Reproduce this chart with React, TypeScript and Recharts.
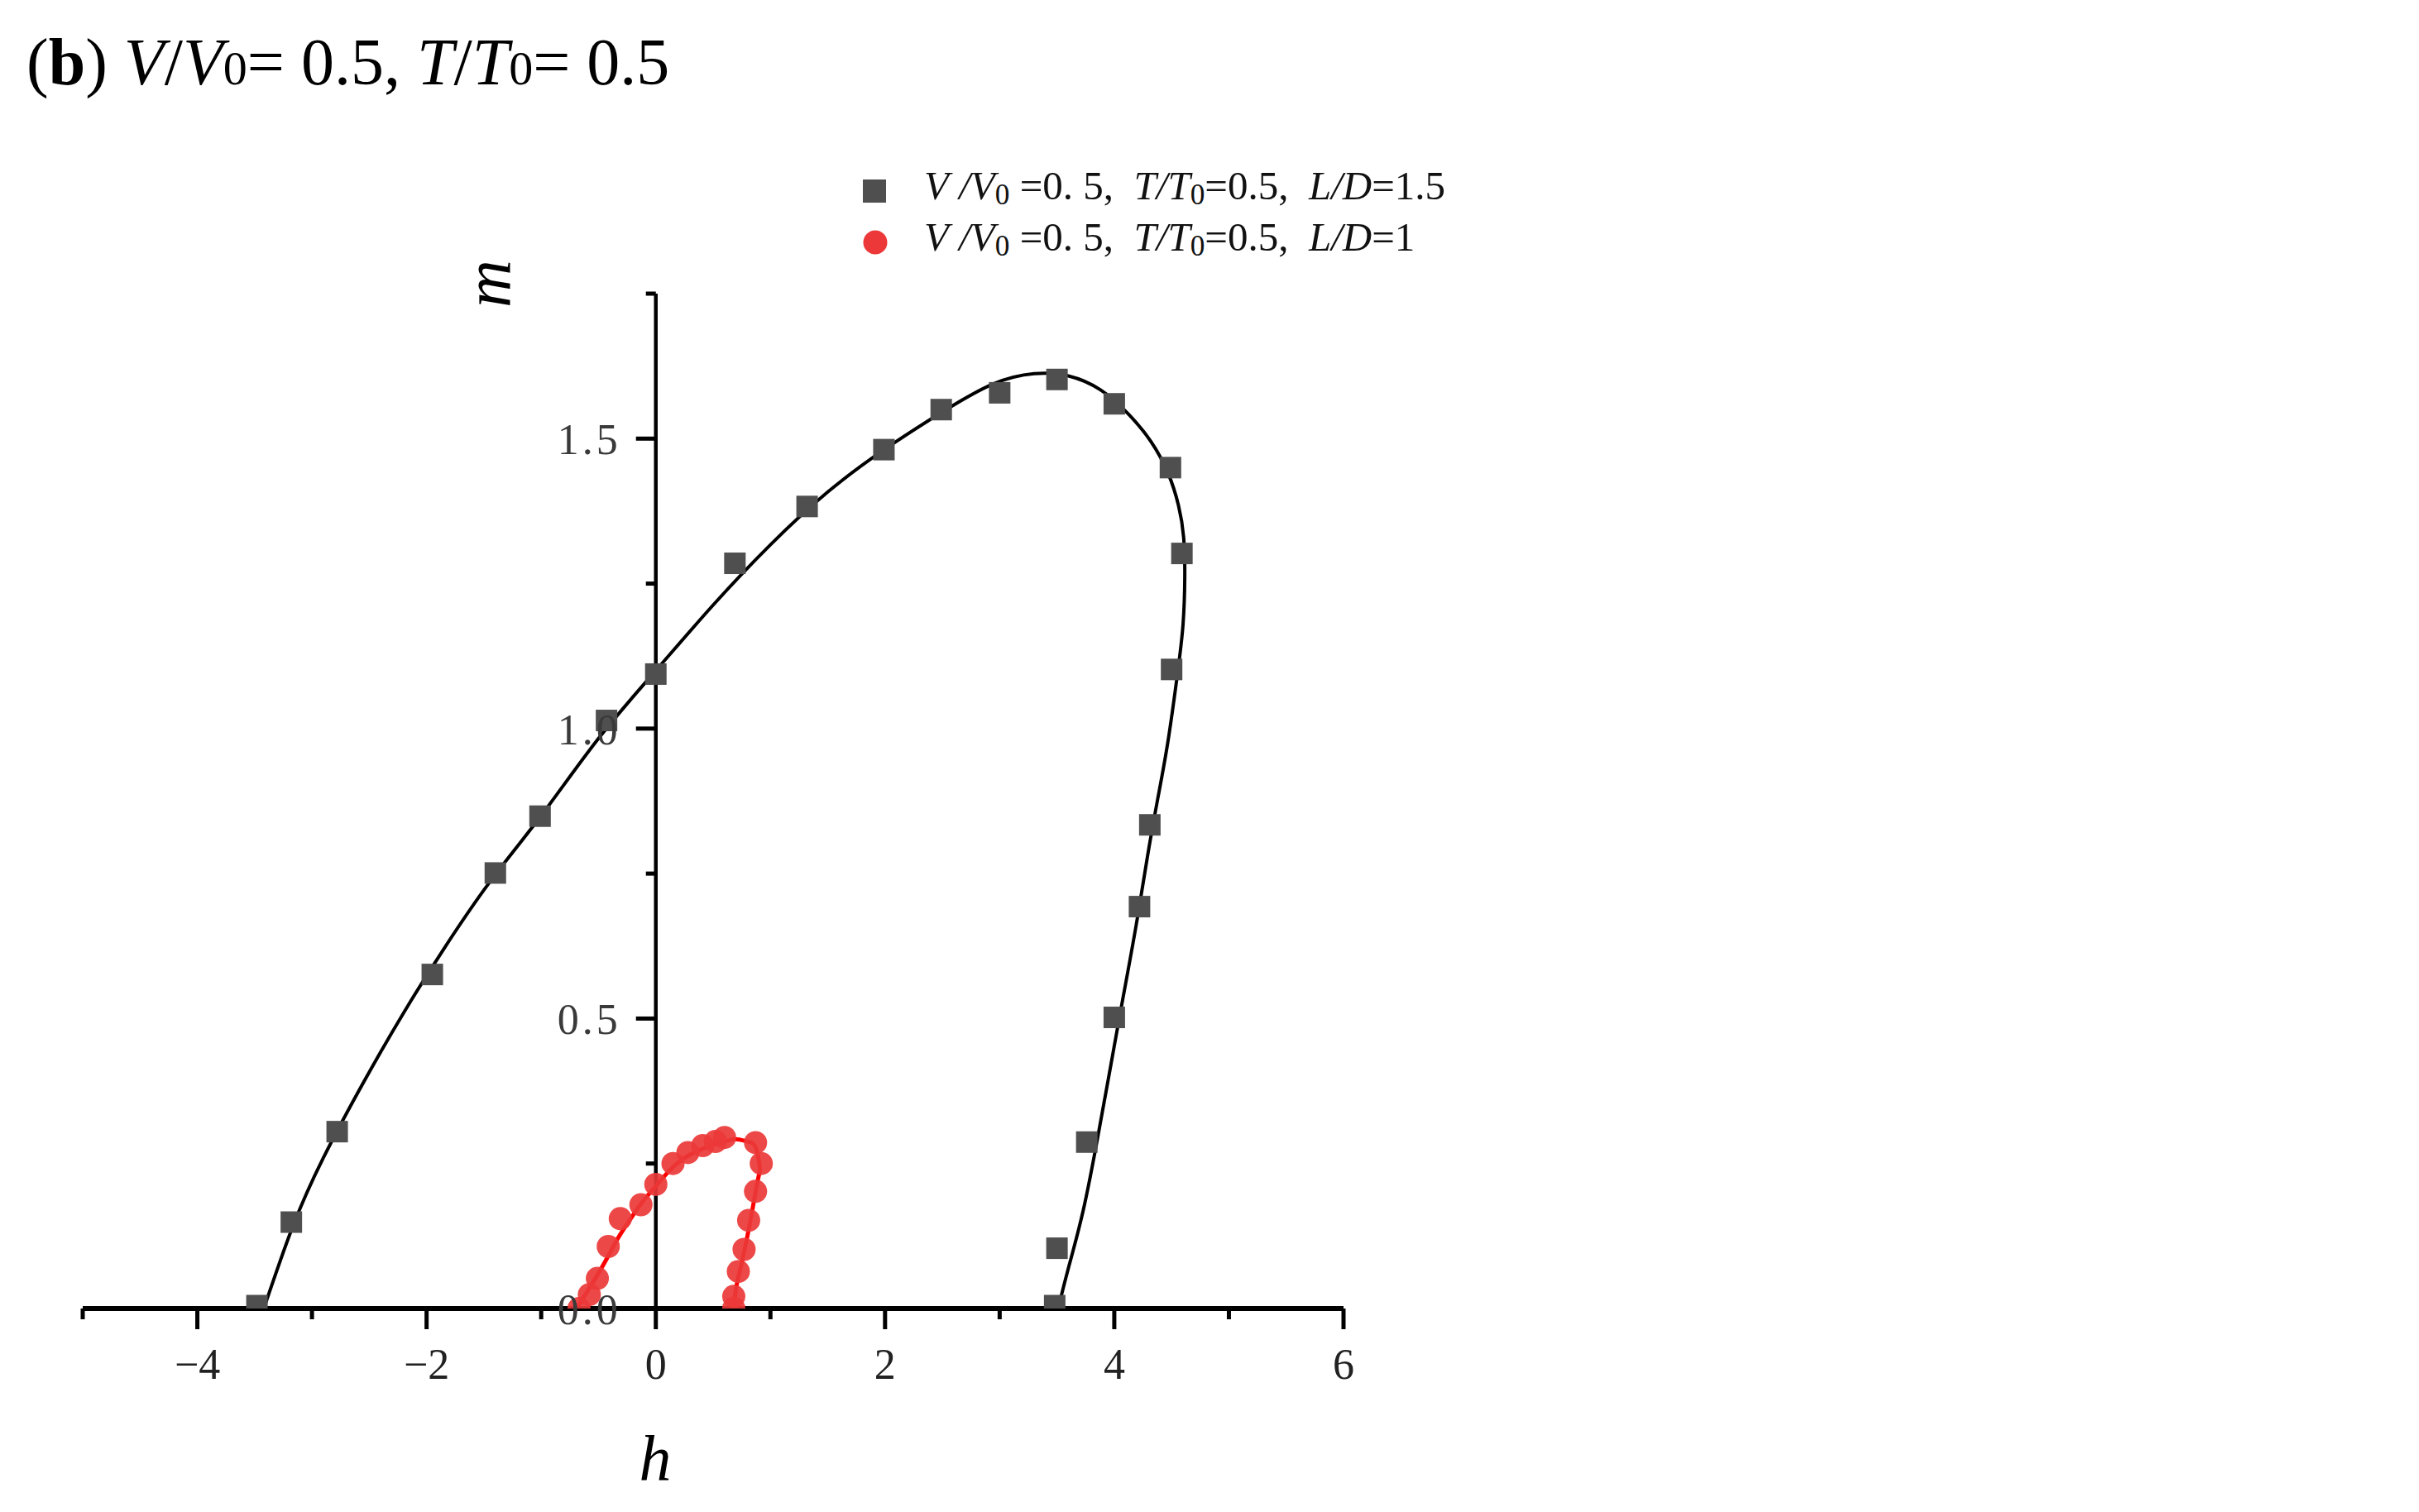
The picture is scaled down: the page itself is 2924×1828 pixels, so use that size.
import React from 'react';
import { ComposedChart, Scatter, Line, XAxis, YAxis, ReferenceLine, Legend } from 'recharts';

// axis ranges / ticks
const H_MIN = -5;
const H_MAX = 6;
const M_MIN = 0;
const M_MAX = 1.75;
const xTicks = [-5, -4, -3, -2, -1, 0, 1, 2, 3, 4, 5, 6];
const xTickLabels = ['', '−4', '', '−2', '', '0', '', '2', '', '4', '', '6'];
const yTicks = [0, 0.25, 0.5, 0.75, 1, 1.25, 1.5, 1.75];
const yTickLabels = ['0.0', '', '0.5', '', '1.0', '', '1.5', ''];

// L/D = 1.5 measured points (squares)
const squaresH = [-3.48, -3.18, -2.78, -1.95, -1.4, -1.01, -0.43, 0.0, 0.69, 1.32, 1.99, 2.49, 3.0, 3.5, 4.0, 4.49, 4.59, 4.5, 4.31, 4.22, 4.0, 3.76, 3.5, 3.48];
const squaresM = [0.005, 0.149, 0.305, 0.576, 0.751, 0.849, 1.014, 1.094, 1.285, 1.383, 1.481, 1.55, 1.579, 1.602, 1.56, 1.45, 1.302, 1.102, 0.834, 0.693, 0.502, 0.287, 0.104, 0.005];

// L/D = 1.5 fitted curve
const fitBlackH = [-3.42, -3.17, -2.9, -2.55, -2.2, -1.85, -1.45, -1.0, -0.5, 0, 0.5, 1.0, 1.5, 2.0, 2.5, 2.94, 3.3, 3.6, 3.88, 4.12, 4.32, 4.47, 4.56, 4.605, 4.615, 4.6, 4.555, 4.47, 4.38, 4.29, 4.19, 4.08, 3.97, 3.86, 3.73, 3.6, 3.51];
const fitBlackM = [0, 0.14, 0.26, 0.39, 0.51, 0.62, 0.735, 0.85, 0.983, 1.1, 1.213, 1.317, 1.408, 1.482, 1.546, 1.594, 1.612, 1.608, 1.584, 1.543, 1.495, 1.44, 1.385, 1.33, 1.26, 1.18, 1.1, 0.98, 0.88, 0.78, 0.66, 0.54, 0.42, 0.3, 0.17, 0.07, 0];

// L/D = 1 measured points (circles)
const circlesH = [-0.67, -0.58, -0.51, -0.415, -0.31, -0.13, 0.0, 0.15, 0.28, 0.41, 0.52, 0.6, 0.87, 0.92, 0.87, 0.81, 0.77, 0.72, 0.68, 0.68];
const circlesM = [0.0, 0.024, 0.052, 0.107, 0.155, 0.179, 0.214, 0.25, 0.269, 0.281, 0.288, 0.295, 0.286, 0.25, 0.202, 0.152, 0.102, 0.064, 0.021, 0.0];

// L/D = 1 fitted curve
const fitRedH = [-0.69, -0.58, -0.45, -0.34, -0.236, -0.12, 0.004, 0.12, 0.245, 0.38, 0.51, 0.62, 0.7, 0.8, 0.87, 0.906, 0.895, 0.846, 0.8, 0.738, 0.7, 0.678];
const fitRedM = [0, 0.035, 0.078, 0.118, 0.15, 0.183, 0.212, 0.238, 0.259, 0.273, 0.283, 0.289, 0.292, 0.288, 0.278, 0.245, 0.226, 0.174, 0.126, 0.069, 0.035, 0];

const zip = (hs: number[], ms: number[]) => hs.map((h, i) => ({ h, m: ms[i] }));
const squares = zip(squaresH, squaresM);
const circles = zip(circlesH, circlesM);
const fitBlack = zip(fitBlackH, fitBlackM);
const fitRed = zip(fitRedH, fitRedM);

const W = 2924;
const H = 1828;
const MARGIN = { top: 355, right: 1300, bottom: 245, left: 99 };
const PLOT_W = W - MARGIN.left - MARGIN.right - 1;
const ZERO_X = MARGIN.left + 1 + ((0 - H_MIN) / (H_MAX - H_MIN)) * PLOT_W;

const SERIF = '"Liberation Serif", "Times New Roman", serif';
const TICK_FONT = 52;

const XTick = ({ x, y, payload }: any) => {
  const label = xTickLabels[xTicks.indexOf(payload.value)];
  const major = !!label;
  return (
    <g>
      <line x1={x} x2={x} y1={y} y2={y + (major ? 25 : 13)} stroke="#000" strokeWidth={5} />
      {major && (
        <text x={x} y={y + 85} textAnchor="middle" fontFamily={SERIF} fontSize={TICK_FONT} fill="#222">
          {label}
        </text>
      )}
    </g>
  );
};

const YTick = ({ y, payload }: any) => {
  const label = yTickLabels[yTicks.indexOf(payload.value)];
  const major = !!label;
  return (
    <g>
      <line x1={ZERO_X} x2={ZERO_X - (major ? 24 : 12)} y1={y} y2={y} stroke="#000" strokeWidth={5} />
      {major && (
        <text x={ZERO_X - 42} y={y + 19} textAnchor="end" fontFamily={SERIF} fontSize={TICK_FONT} fill="#3a3a3a" letterSpacing={4}>
          {label}
        </text>
      )}
    </g>
  );
};

const Square = ({ cx, cy }: any) => <rect x={cx - 13} y={cy - 13} width={26} height={26} fill="#4f4f4f" />;
const Dot = ({ cx, cy }: any) => <circle cx={cx} cy={cy} r={14} fill="#ec3838" fillOpacity={0.92} />;

const Sub = ({ children }: any) => (
  <span style={{ fontStyle: 'normal', fontSize: '0.72em', verticalAlign: '-0.18em' }}>{children}</span>
);

const LegendRow = ({ marker, ld }: any) => (
  <div style={{ display: 'flex', alignItems: 'center', height: 62, whiteSpace: 'pre' }}>
    <svg width={74} height={62}>
      {marker === 'square' ? (
        <rect x={0} y={17} width={28} height={28} fill="#4f4f4f" />
      ) : (
        <circle cx={15} cy={31} r={14.5} fill="#ec3838" />
      )}
    </svg>
    <span>
      <i>V</i> <i>/V</i>
      <Sub>0</Sub> =0. 5,{'\u2002'}<i>T/T</i>
      <Sub>0</Sub>=0.5,{'\u2002'}<i>L/D</i>={ld}
    </span>
  </div>
);

const LegendContent = () => (
  <div style={{ fontFamily: SERIF, fontSize: 49, color: '#111', lineHeight: '62px' }}>
    <LegendRow marker="square" ld="1.5" />
    <LegendRow marker="circle" ld="1" />
  </div>
);

export default function App() {
  return (
    <div style={{ position: 'absolute', left: 0, top: 0, width: W, height: H, background: '#fff' }}>
      <ComposedChart width={W} height={H} margin={MARGIN}>
        <XAxis
          type="number"
          dataKey="h"
          domain={[H_MIN, H_MAX]}
          ticks={xTicks}
          interval={0}
          allowDataOverflow
          height={1}
          tickSize={0}
          tickMargin={0}
          tickLine={false}
          axisLine={{ stroke: '#000', strokeWidth: 6 }}
          tick={<XTick />}
        />
        <YAxis
          type="number"
          dataKey="m"
          domain={[M_MIN, M_MAX]}
          ticks={yTicks}
          interval={0}
          allowDataOverflow
          width={1}
          tickSize={0}
          tickMargin={0}
          tickLine={false}
          axisLine={false}
          tick={<YTick />}
        />
        <ReferenceLine x={0} stroke="#000" strokeWidth={4.5} />
        <Legend
          layout="vertical"
          align="center"
          verticalAlign="middle"
          content={<LegendContent />}
          wrapperStyle={{ left: 1043, top: 200, width: 760, height: 130 }}
        />
        <Line data={fitBlack} dataKey="m" type="natural" stroke="#000" strokeWidth={4} dot={false} isAnimationActive={false} legendType="none" />
        <Scatter data={squares} dataKey="m" shape={<Square />} isAnimationActive={false} />
        <Scatter data={circles} dataKey="m" shape={<Dot />} isAnimationActive={false} />
        <Line data={fitRed} dataKey="m" type="natural" stroke="#f00" strokeWidth={5} dot={false} isAnimationActive={false} legendType="none" />
      </ComposedChart>
      <svg width={W} height={H} style={{ position: 'absolute', left: 0, top: 0, pointerEvents: 'none' }}>
        <text x={32} y={102} fontFamily={SERIF} fontSize={80} fill="#000" xmlSpace="preserve">
          (<tspan fontWeight="bold">b</tspan>) <tspan fontStyle="italic">V</tspan>/<tspan fontStyle="italic">V</tspan>
          <tspan fontSize={58}>0</tspan>
          <tspan>= 0.5, </tspan>
          <tspan fontStyle="italic">T</tspan>/<tspan fontStyle="italic">T</tspan>
          <tspan fontSize={58}>0</tspan>
          <tspan>= 0.5</tspan>
        </text>
        <text x={792} y={1790} textAnchor="middle" fontFamily={SERIF} fontStyle="italic" fontSize={78} fill="#000">
          h
        </text>
        <text
          x={589}
          y={343}
          textAnchor="middle"
          dominantBaseline="central"
          fontFamily={SERIF}
          fontStyle="italic"
          fontSize={80}
          fill="#000"
          transform="rotate(-90 589 343)"
        >
          m
        </text>
      </svg>
    </div>
  );
}
